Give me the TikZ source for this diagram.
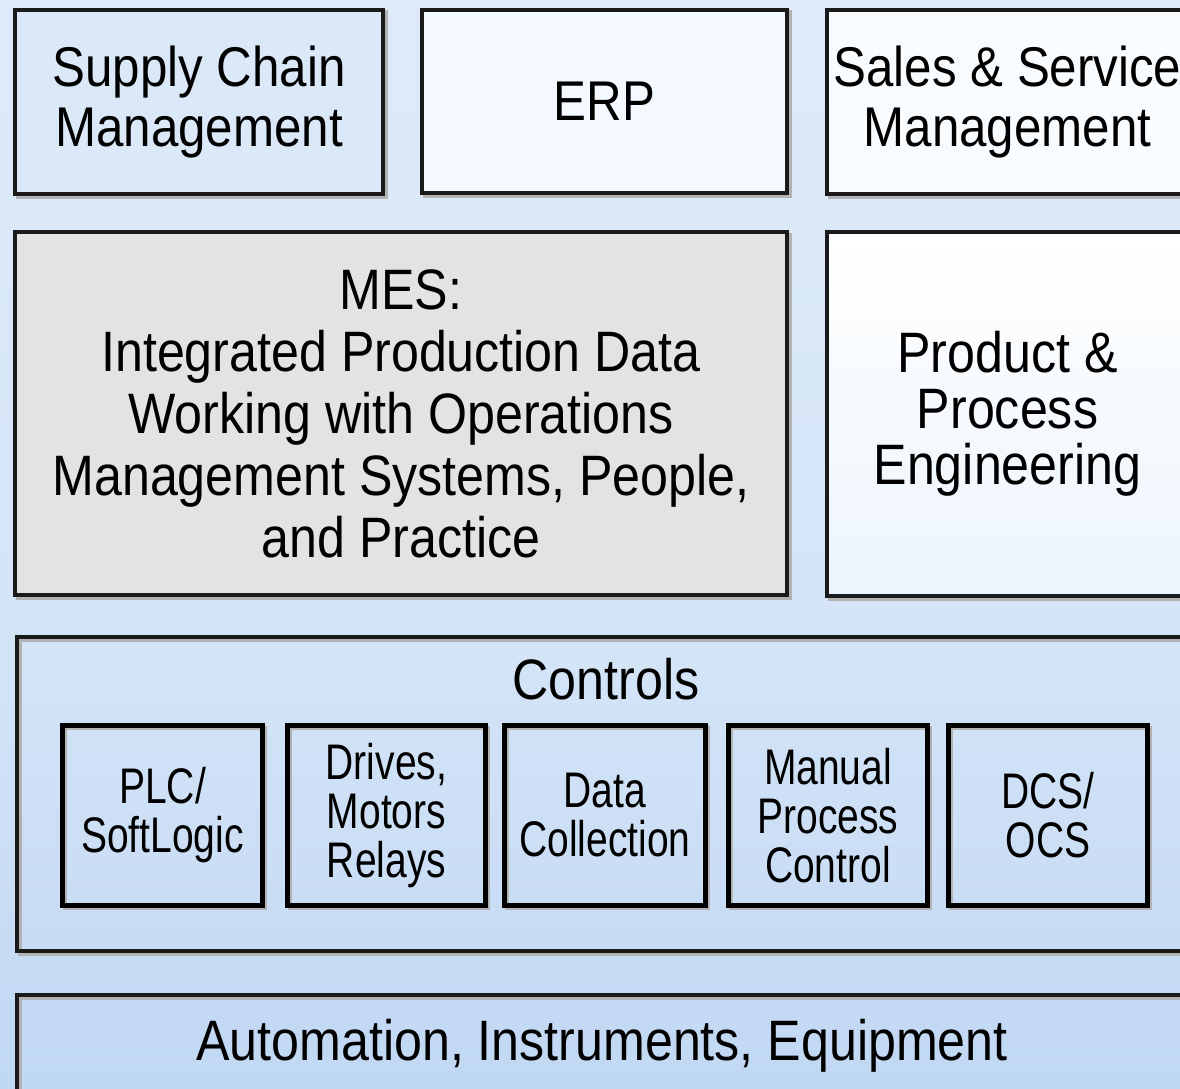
\documentclass[tikz,border=0pt]{standalone}
\usepackage{fontspec}
\setmainfont{Liberation Sans}
\newfontfamily\bigf[FakeStretch=0.88]{Liberation Sans}
\newfontfamily\smallf[FakeStretch=0.78]{Liberation Sans}
\definecolor{bgtop}{HTML}{E6F0FB}
\definecolor{bgmid}{HTML}{D4E4F7}
\definecolor{bgbot}{HTML}{A8C8EE}
\definecolor{mesgray}{HTML}{E3E3E3}
\definecolor{edge}{HTML}{1A1A1A}
\definecolor{scmfill}{HTML}{DAE8F8}
\definecolor{erpfill}{HTML}{F3F9FE}
\definecolor{salesfill}{HTML}{F9FCFF}
\pgfdeclareverticalshading{bgshade}{100bp}{color(0bp)=(bgbot); color(45bp)=(bgmid); color(100bp)=(bgtop)}
\begin{document}
\begin{tikzpicture}[x=1pt,y=-1pt,
  shadowed/.style={preaction={draw=gray!60, line width=4pt, transform canvas={shift={(2.5pt,-2.5pt)}}}},
  box/.style={shadowed, draw=edge, line width=4.5pt, rectangle, inner sep=0pt, align=center, text=black},
  subbox/.style={shadowed, draw=black, line width=5pt, rectangle, inner sep=0pt, align=center,
    minimum height=180pt, font=\smallf\fontsize{50pt}{49pt}\selectfont},
  toptext/.style={font=\bigf\fontsize{56pt}{60pt}\selectfont},
  bigtext/.style={font=\bigf\fontsize{57pt}{62pt}\selectfont}]
\useasboundingbox (0,0) rectangle (1180,1089);
\clip (0,0) rectangle (1180,1089);
\shade[shading=bgshade] (0,0) rectangle (1180,1089);

% top row
\node[box, toptext, fill=scmfill, minimum width=368pt, minimum height=184pt] (scm) at (199,102) {Supply Chain\\Management};
\node[box, toptext, fill=erpfill, minimum width=365pt, minimum height=183pt] (erp) at (604.5,101.5) {ERP};
\node[box, toptext, fill=salesfill, minimum width=361pt, minimum height=184pt] (sales) at (1007.5,102) {Sales \& Service\\Management};

% middle row
\node[box, bigtext, fill=mesgray, minimum width=772pt, minimum height=363pt] (mes) at (401,413.5)
  {MES:\\Integrated Production Data\\Working with Operations\\Management Systems, People,\\and Practice};
\node[box, font=\bigf\fontsize{57pt}{56pt}\selectfont, top color=white, bottom color=erpfill!80!bgmid, minimum width=361pt, minimum height=364pt] (ppe) at (1007.5,414)
  {Product \&\\Process\\Engineering};

% controls
\node[box, minimum width=1169pt, minimum height=314pt] (ctl) at (601.5,794) {};
\node[bigtext, anchor=base, inner sep=0pt] (ctllabel) at (606,699) {Controls};
\node[subbox, minimum width=200pt] (plc) at (162.5,815.5) {PLC/\\SoftLogic};
\node[subbox, minimum width=198pt] (drv) at (386.5,815.5) {Drives,\\Motors\\Relays};
\node[subbox, minimum width=201pt] (dat) at (605,815.5) {Data\\Collection};
\node[subbox, minimum width=199pt] (man) at (828,815.5) {Manual\\Process\\Control};
\node[subbox, minimum width=199pt] (dcs) at (1048,815.5) {DCS/\\OCS};

% automation
\node[box, minimum width=1169pt, minimum height=120pt] (auto) at (601.5,1055) {};
\node[bigtext, anchor=base, inner sep=0pt] (autolabel) at (602,1060) {Automation, Instruments, Equipment};
\end{tikzpicture}
\end{document}
